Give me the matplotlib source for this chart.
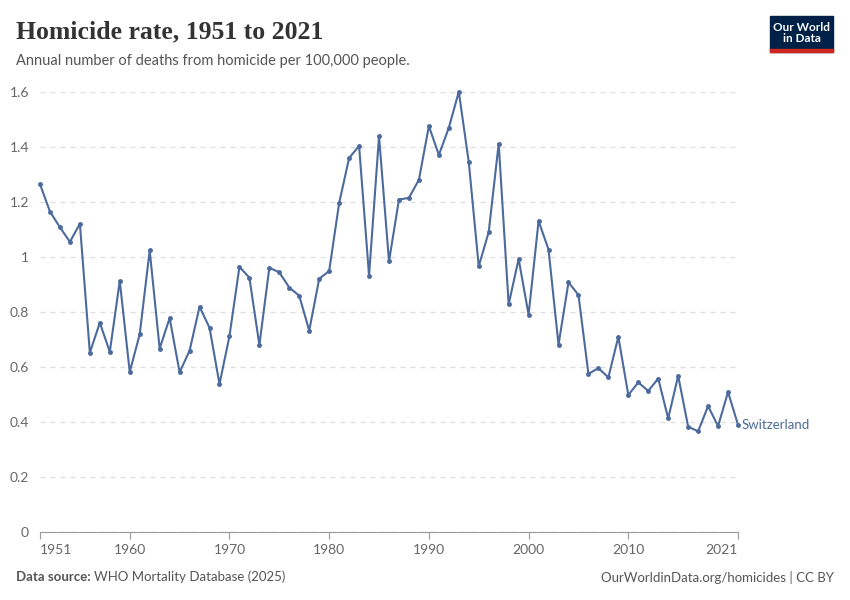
import matplotlib
matplotlib.use("Agg")
import matplotlib.pyplot as plt
from matplotlib.patches import Rectangle
from matplotlib.ticker import FuncFormatter

years = list(range(1951, 2022))
rate = [1.265, 1.165, 1.108, 1.055, 1.121, 0.652, 0.761, 0.655, 0.913, 0.582,
        0.719, 1.024, 0.667, 0.778, 0.581, 0.659, 0.819, 0.743, 0.538, 0.712,
        0.964, 0.925, 0.680, 0.961, 0.944, 0.889, 0.859, 0.732, 0.921, 0.949,
        1.196, 1.360, 1.404, 0.932, 1.439, 0.984, 1.209, 1.215, 1.281, 1.476,
        1.371, 1.470, 1.601, 1.345, 0.966, 1.091, 1.412, 0.828, 0.993, 0.790,
        1.131, 1.027, 0.681, 0.908, 0.862, 0.575, 0.596, 0.562, 0.710, 0.498,
        0.544, 0.513, 0.558, 0.413, 0.568, 0.383, 0.366, 0.458, 0.385, 0.509,
        0.390]
xticks = [1951, 1960, 1970, 1980, 1990, 2000, 2010, 2021]
yticks = [0, 0.2, 0.4, 0.6, 0.8, 1.0, 1.2, 1.4, 1.6]
country = "Switzerland"

line_col = "#4c6a9c"
grey = "#666666"

plt.rcParams["font.family"] = ["Lato", "DejaVu Sans"]

fig = plt.figure(figsize=(8.5, 6), dpi=100)
ax = fig.add_axes([40 / 850, 1 - 532 / 600, 698 / 850, 440 / 600])

ax.plot(years, rate, color=line_col, lw=1.5, marker="o", ms=2.5, clip_on=False, zorder=3)
ax.text(years[-1] + 0.4, rate[-1], country, color=line_col, fontsize=9.5,
        va="center", ha="left")

ax.set_xlim(1951, 2021)
ax.set_ylim(0, 1.6)
ax.set_yticks(yticks)
ax.yaxis.set_major_formatter(FuncFormatter(lambda v, p: "%g" % v))
ax.set_xticks(xticks)
ax.set_xticklabels([str(t) for t in xticks])
labels = ax.get_xticklabels()
labels[0].set_ha("left")
labels[-1].set_ha("right")

ax.grid(axis="y", color="#dddddd", ls=(0, (4, 4)), lw=0.9)
ax.set_axisbelow(True)
for s in ["top", "right", "left"]:
    ax.spines[s].set_visible(False)
ax.spines["bottom"].set_color("#999999")
ax.tick_params(axis="y", length=0, labelsize=10, labelcolor=grey, pad=8)
ax.tick_params(axis="x", length=5, color="#999999", labelsize=10, labelcolor=grey, pad=4)

# header
fig.text(16 / 850, 1 - 32 / 600, "Homicide rate, 1951 to 2021", family=["Liberation Serif"],
         fontsize=18.5, weight="bold", color="#333333", va="center", ha="left")
fig.text(16 / 850, 1 - 61 / 600, "Annual number of deaths from homicide per 100,000 people.",
         fontsize=10.5, color="#555555", va="center", ha="left")

# logo
fig.patches.append(Rectangle((770 / 850, 1 - 52 / 600), 63 / 850, 36 / 600,
                             transform=fig.transFigure, color="#002147"))
fig.patches.append(Rectangle((770 / 850, 1 - 52 / 600), 63 / 850, 3 / 600,
                             transform=fig.transFigure, color="#ce261e"))
fig.text(801.5 / 850, 1 - 33 / 600, "Our World\nin Data", color="white", fontsize=8.5,
         ha="center", va="center", linespacing=1.0, weight="bold")

# footer
fig.text(16 / 850, 1 - 577 / 600, "Data source:", fontsize=9.5, color="#555555",
         weight="bold", va="center", ha="left")
fig.text(94.5 / 850, 1 - 577 / 600, "WHO Mortality Database (2025)", fontsize=9.5,
         color="#555555", va="center", ha="left")
fig.text(834 / 850, 1 - 577 / 600, "OurWorldinData.org/homicides | CC BY", fontsize=9.5,
         color="#555555", va="center", ha="right")

fig.savefig("out.png", dpi=100)
